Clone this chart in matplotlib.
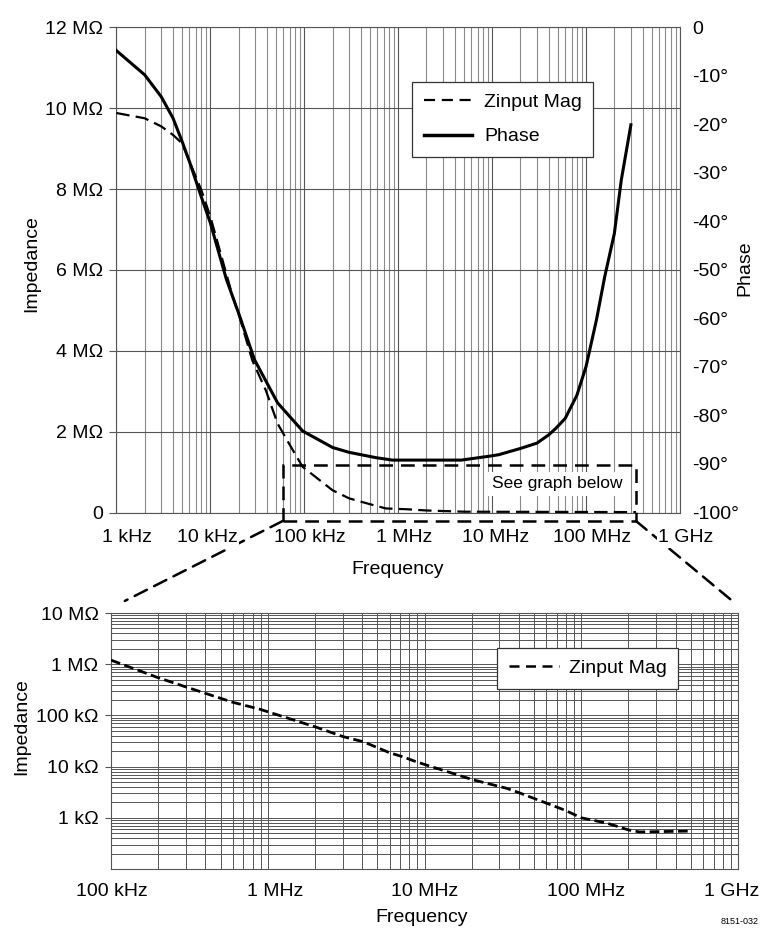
import matplotlib
matplotlib.use('Agg')
import matplotlib.pyplot as plt
import matplotlib.transforms as mtransforms
from matplotlib.patches import Rectangle, ConnectionPatch
from matplotlib.lines import Line2D
from matplotlib.ticker import LogLocator, NullFormatter

plt.rcParams['font.family'] = ['Liberation Sans', 'DejaVu Sans']
plt.rcParams['font.size'] = 14

# top chart: input impedance magnitude (MOhm) vs frequency (Hz)
mag_freq = [1e3, 2e3, 3e3, 4e3, 5e3, 6e3, 8e3, 1e4, 1.73e4, 2.05e4, 2.8e4, 3.9e4,
            5.2e4, 6.9e4, 9.6e4, 2e5, 3e5, 5.1e5, 7.4e5, 1.25e6, 2e6, 5e6, 3.4e8]
mag_mohm = [9.88, 9.75, 9.55, 9.34, 9.13, 8.68, 7.98, 7.32, 5.34, 4.83, 3.76, 3.02,
            2.2, 1.7, 1.13, 0.55, 0.35, 0.2, 0.1, 0.08, 0.05, 0.02, 0.01]

# top chart: phase (degrees) vs frequency (Hz)
phase_freq = [1e3, 2e3, 3e3, 4e3, 5e3, 6e3, 8e3, 1e4, 1.48e4, 2.05e4, 2.95e4, 5.2e4,
              9.6e4, 2e5, 3e5, 5.8e5, 8.7e5, 1.25e6, 4.7e6, 9.3e6, 1.17e7, 2.0e7, 3.0e7,
              4.0e7, 4.8e7, 6.0e7, 8.0e7, 1.0e8, 1.29e8, 1.58e8, 2.0e8, 2.37e8, 3.0e8]
phase_deg = [-4.8, -9.8, -14.3, -18.7, -23.5, -27.7, -34.9, -40.3, -51.9, -59.5, -68.5, -77.4,
             -83.2, -86.6, -87.6, -88.7, -89.2, -89.2, -89.2, -88.4, -88.1, -86.8, -85.7,
             -84.0, -82.6, -80.6, -75.8, -69.9, -60.3, -51.4, -42.5, -31.5, -20.1]

# bottom chart: zoomed magnitude (Ohm), log scale
zoom_freq = [1e5, 1.95e5, 3.0e5, 6.0e5, 8.9e5, 2.05e6, 3.03e6, 4.07e6, 6.0e6, 7.3e6, 8.5e6,
             1.03e7, 2.05e7, 3.34e7, 4.0e7, 7.9e7, 1.0e8, 1.45e8, 2.0e8, 2.35e8, 5.0e8]
zoom_ohm = [1.2e6, 5.6e5, 3.6e5, 1.8e5, 1.32e5, 5.85e4, 3.84e4, 3.06e4, 1.86e4, 1.55e4, 1.3e4,
            1.07e4, 5.5e3, 3.77e3, 3.1e3, 1.4e3, 1.0e3, 7.9e2, 5.8e2, 5.3e2, 5.5e2]

top_xticks = [1e3, 1e4, 1e5, 1e6, 1e7, 1e8, 1e9]
top_xlabels = ['1 kHz', '10 kHz', '100 kHz', '1 MHz', '10 MHz', '100 MHz', '1 GHz']
top_yticks = [0, 2, 4, 6, 8, 10, 12]
top_ylabels = ['0', '2 MΩ', '4 MΩ', '6 MΩ', '8 MΩ', '10 MΩ', '12 MΩ']
phase_ticks = [0, -10, -20, -30, -40, -50, -60, -70, -80, -90, -100]
phase_labels = ['0'] + ['%d°' % p for p in phase_ticks[1:]]
bot_xticks = [1e5, 1e6, 1e7, 1e8, 1e9]
bot_xlabels = ['100 kHz', '1 MHz', '10 MHz', '100 MHz', '1 GHz']
bot_yticks = [1e3, 1e4, 1e5, 1e6, 1e7]
bot_ylabels = ['1 kΩ', '10 kΩ', '100 kΩ', '1 MΩ', '10 MΩ']

# region of the top chart that is blown up below
box_f = (5.9e4, 3.4e8)
box_z = (-0.21, 1.17)

W, H = 763, 931
fig = plt.figure(figsize=(W / 100, H / 100), dpi=100)

def frame(x0, y0, x1, y1):
    # pixel box -> figure fraction rect
    return [x0 / W, 1 - y1 / H, (x1 - x0) / W, (y1 - y0) / H]

def nudge(labels, shifts):
    # small horizontal shifts of tick labels, in pixels
    for lab, dx in zip(labels, shifts):
        off = mtransforms.ScaledTranslation(dx / 100, 0, fig.dpi_scale_trans)
        lab.set_transform(lab.get_transform() + off)

major_c = '#555555'
minor_c = '#8a8a8a'

# ---- top chart ----
ax = fig.add_axes(frame(116.4, 27.3, 680, 512.5))
ax.set_xscale('log')
ax.set_xlim(1e3, 1e9)
ax.set_ylim(0, 12)
ax.plot(mag_freq, mag_mohm, color='black', lw=1.6, ls=(0, (6, 2.8)), zorder=3)
ax.set_xticks(top_xticks, top_xlabels)
ax.set_yticks(top_yticks, top_ylabels)
ax.xaxis.set_minor_locator(LogLocator(base=10, subs=range(2, 10), numticks=20))
ax.xaxis.set_minor_formatter(NullFormatter())
ax.grid(which='major', color=major_c, lw=0.8)
ax.grid(which='minor', axis='x', color=minor_c, lw=0.8)
ax.tick_params(axis='x', which='both', length=0, pad=12)
ax.tick_params(axis='y', length=5, width=0.8, color=major_c, pad=4.5)
for s in ax.spines.values():
    s.set_color(major_c)
    s.set_linewidth(0.8)
for lab in ax.get_xticklabels():
    lab.set_bbox(dict(facecolor='white', edgecolor='none', pad=1))
nudge(ax.get_xticklabels(), [11, -3, 6, 6, 3, 6, 6])

axr = ax.twinx()
axr.set_ylim(-100, 0)
axr.plot(phase_freq, phase_deg, color='black', lw=2.2, zorder=3)
axr.set_yticks(phase_ticks, phase_labels)
axr.tick_params(axis='y', length=0, pad=9)
for s in axr.spines.values():
    s.set_visible(False)

# zoom box
ax.add_patch(Rectangle((box_f[0], box_z[0]), box_f[1] - box_f[0], box_z[1] - box_z[0],
                       fill=False, ec='black', lw=1.8, ls=(0, (5.5, 3.2)),
                       clip_on=False, zorder=6))
ax.text(0.782, 0.059, 'See graph below', transform=ax.transAxes, fontsize=12.5,
        ha='center', va='center', zorder=5,
        bbox=dict(facecolor='white', edgecolor='none', pad=3))

leg_handles = [Line2D([], [], color='black', lw=1.6, ls=(0, (5, 3))),
               Line2D([], [], color='black', lw=2.5)]
leg = axr.legend(leg_handles, ['Zinput Mag', 'Phase'], loc='upper left',
                 bbox_to_anchor=(412 / W, 1 - 82 / H), bbox_transform=fig.transFigure,
                 borderaxespad=0, borderpad=0.6, handlelength=2.5, handletextpad=0.6,
                 labelspacing=0.85, fancybox=False, framealpha=1, edgecolor='#333333')
leg.get_frame().set_linewidth(0.9)

# ---- bottom chart ----
ax2 = fig.add_axes(frame(111, 613, 738, 869))
ax2.set_xscale('log')
ax2.set_yscale('log')
ax2.set_xlim(1e5, 1e9)
ax2.set_ylim(1e2, 1e7)
ax2.plot(zoom_freq, zoom_ohm, color='black', lw=2.0, ls=(0, (3.5, 1.6)), zorder=3)
ax2.set_xticks(bot_xticks, bot_xlabels)
ax2.set_yticks(bot_yticks, bot_ylabels)
for axis in (ax2.xaxis, ax2.yaxis):
    axis.set_minor_locator(LogLocator(base=10, subs=range(2, 10), numticks=20))
    axis.set_minor_formatter(NullFormatter())
ax2.grid(which='both', color=major_c, lw=0.7)
ax2.tick_params(axis='x', which='both', length=0, pad=10)
ax2.tick_params(axis='y', which='major', length=4, width=0.8, color=major_c, pad=5)
ax2.tick_params(axis='y', which='minor', length=0)
for s in ax2.spines.values():
    s.set_color(major_c)
    s.set_linewidth(0.8)
nudge(ax2.get_xticklabels(), [1, 7, 0, 5, -6])

leg2 = ax2.legend([Line2D([], [], color='black', lw=1.8, ls=(0, (4, 2.6)))], ['Zinput Mag'],
                  loc='upper left', bbox_to_anchor=(497 / W, 1 - 648 / H),
                  bbox_transform=fig.transFigure, borderaxespad=0, borderpad=0.6,
                  handlelength=2.6, handletextpad=0.5, fancybox=False, framealpha=1,
                  edgecolor='#333333')
leg2.get_frame().set_linewidth(0.9)

# dashed lines from the zoom box down to the lower chart
for xa, xb, yb in [(box_f[0], 0.022, 1.047), (box_f[1], 0.995, 1.039)]:
    cp = ConnectionPatch(xyA=(xa, box_z[0]), coordsA=ax.transData,
                         xyB=(xb, yb), coordsB=ax2.transAxes,
                         color='black', lw=1.8, ls=(0, (5.5, 3.2)), zorder=-1)
    fig.add_artist(cp)

# axis titles
fig.text(32 / W, 1 - 264 / H, 'Impedance', rotation=90, ha='center', va='center')
fig.text(745 / W, 1 - 268 / H, 'Phase', rotation=90, ha='center', va='center')
fig.text(398 / W, 1 - 570 / H, 'Frequency', ha='center', va='center')
fig.text(22 / W, 1 - 727 / H, 'Impedance', rotation=90, ha='center', va='center')
fig.text(422 / W, 1 - 918 / H, 'Frequency', ha='center', va='center')
fig.text(740 / W, 1 - 921 / H, '8151-032', ha='center', va='center', fontsize=6.5)

fig.savefig('out.png', dpi=100)
